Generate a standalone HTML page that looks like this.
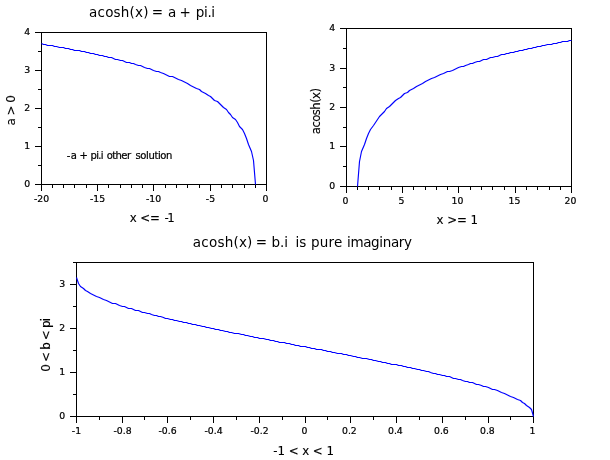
<!DOCTYPE html>
<html><head><meta charset="utf-8"><title>acosh</title>
<style>
html,body{margin:0;padding:0;background:#fff;}
svg{display:block}
text{font-family:"DejaVu Sans","Liberation Sans",sans-serif;fill:#000;white-space:pre;stroke:#000;stroke-width:0}
text.s{stroke-width:0.22px}
text.m{stroke-width:0.12px}
</style></head><body>
<svg width="610" height="460" viewBox="0 0 610 460">
<rect width="610" height="460" fill="#fff"/>
<g fill="#000" shape-rendering="crispEdges">
<g>
<rect x="41" y="32" width="226" height="1"/>
<rect x="41" y="184" width="226" height="1"/>
<rect x="41" y="32" width="1" height="153"/>
<rect x="266" y="32" width="1" height="153"/>
<rect x="41" y="184" width="1" height="7"/>
<rect x="97" y="184" width="1" height="7"/>
<rect x="153" y="184" width="1" height="7"/>
<rect x="210" y="184" width="1" height="7"/>
<rect x="266" y="184" width="1" height="7"/>
<rect x="52" y="184" width="1" height="4"/>
<rect x="63" y="184" width="1" height="4"/>
<rect x="74" y="184" width="1" height="4"/>
<rect x="86" y="184" width="1" height="4"/>
<rect x="108" y="184" width="1" height="4"/>
<rect x="120" y="184" width="1" height="4"/>
<rect x="131" y="184" width="1" height="4"/>
<rect x="142" y="184" width="1" height="4"/>
<rect x="165" y="184" width="1" height="4"/>
<rect x="176" y="184" width="1" height="4"/>
<rect x="187" y="184" width="1" height="4"/>
<rect x="199" y="184" width="1" height="4"/>
<rect x="221" y="184" width="1" height="4"/>
<rect x="232" y="184" width="1" height="4"/>
<rect x="244" y="184" width="1" height="4"/>
<rect x="255" y="184" width="1" height="4"/>
<rect x="35" y="184" width="7" height="1"/>
<rect x="35" y="146" width="7" height="1"/>
<rect x="35" y="108" width="7" height="1"/>
<rect x="35" y="70" width="7" height="1"/>
<rect x="35" y="32" width="7" height="1"/>
<rect x="38" y="165" width="4" height="1"/>
<rect x="38" y="127" width="4" height="1"/>
<rect x="38" y="89" width="4" height="1"/>
<rect x="38" y="51" width="4" height="1"/>
</g>
<g>
<rect x="346" y="28" width="226" height="1"/>
<rect x="346" y="186" width="226" height="1"/>
<rect x="346" y="28" width="1" height="159"/>
<rect x="571" y="28" width="1" height="159"/>
<rect x="346" y="186" width="1" height="7"/>
<rect x="402" y="186" width="1" height="7"/>
<rect x="458" y="186" width="1" height="7"/>
<rect x="515" y="186" width="1" height="7"/>
<rect x="571" y="186" width="1" height="7"/>
<rect x="357" y="186" width="1" height="4"/>
<rect x="368" y="186" width="1" height="4"/>
<rect x="379" y="186" width="1" height="4"/>
<rect x="391" y="186" width="1" height="4"/>
<rect x="413" y="186" width="1" height="4"/>
<rect x="425" y="186" width="1" height="4"/>
<rect x="436" y="186" width="1" height="4"/>
<rect x="447" y="186" width="1" height="4"/>
<rect x="470" y="186" width="1" height="4"/>
<rect x="481" y="186" width="1" height="4"/>
<rect x="492" y="186" width="1" height="4"/>
<rect x="504" y="186" width="1" height="4"/>
<rect x="526" y="186" width="1" height="4"/>
<rect x="537" y="186" width="1" height="4"/>
<rect x="549" y="186" width="1" height="4"/>
<rect x="560" y="186" width="1" height="4"/>
<rect x="340" y="186" width="7" height="1"/>
<rect x="340" y="146" width="7" height="1"/>
<rect x="340" y="107" width="7" height="1"/>
<rect x="340" y="68" width="7" height="1"/>
<rect x="340" y="28" width="7" height="1"/>
<rect x="343" y="166" width="4" height="1"/>
<rect x="343" y="127" width="4" height="1"/>
<rect x="343" y="87" width="4" height="1"/>
<rect x="343" y="48" width="4" height="1"/>
</g>
<g>
<rect x="76" y="262" width="458" height="1"/>
<rect x="76" y="416" width="458" height="1"/>
<rect x="76" y="262" width="1" height="155"/>
<rect x="533" y="262" width="1" height="155"/>
<rect x="76" y="416" width="1" height="7"/>
<rect x="122" y="416" width="1" height="7"/>
<rect x="167" y="416" width="1" height="7"/>
<rect x="213" y="416" width="1" height="7"/>
<rect x="259" y="416" width="1" height="7"/>
<rect x="305" y="416" width="1" height="7"/>
<rect x="350" y="416" width="1" height="7"/>
<rect x="396" y="416" width="1" height="7"/>
<rect x="442" y="416" width="1" height="7"/>
<rect x="488" y="416" width="1" height="7"/>
<rect x="533" y="416" width="1" height="7"/>
<rect x="99" y="416" width="1" height="4"/>
<rect x="144" y="416" width="1" height="4"/>
<rect x="190" y="416" width="1" height="4"/>
<rect x="236" y="416" width="1" height="4"/>
<rect x="282" y="416" width="1" height="4"/>
<rect x="327" y="416" width="1" height="4"/>
<rect x="373" y="416" width="1" height="4"/>
<rect x="419" y="416" width="1" height="4"/>
<rect x="465" y="416" width="1" height="4"/>
<rect x="510" y="416" width="1" height="4"/>
<rect x="70" y="416" width="7" height="1"/>
<rect x="70" y="372" width="7" height="1"/>
<rect x="70" y="328" width="7" height="1"/>
<rect x="70" y="284" width="7" height="1"/>
<rect x="73" y="394" width="4" height="1"/>
<rect x="73" y="350" width="4" height="1"/>
<rect x="73" y="306" width="4" height="1"/>
<rect x="73" y="262" width="4" height="1"/>
</g>
</g>
<g fill="none" stroke="#0000ff" stroke-width="1.15" stroke-linejoin="round">
<polyline points="41.5,43.5 43.5,44.5 45.5,44.5 47.5,45.5 50.5,45.5 52.5,45.5 54.5,46.5 56.5,46.5 59.5,47.5 61.5,47.5 63.5,47.5 65.5,48.5 68.5,48.5 70.5,49.5 72.5,49.5 74.5,50.5 77.5,50.5 79.5,50.5 81.5,51.5 84.5,51.5 86.5,52.5 88.5,52.5 90.5,53.5 93.5,53.5 95.5,54.5 97.5,54.5 99.5,55.5 102.5,55.5 104.5,56.5 106.5,56.5 108.5,57.5 111.5,57.5 113.5,58.5 115.5,59.5 117.5,59.5 120.5,60.5 122.5,60.5 124.5,61.5 126.5,62.5 129.5,62.5 131.5,63.5 133.5,63.5 135.5,64.5 138.5,65.5 140.5,65.5 142.5,66.5 144.5,67.5 147.5,68.5 149.5,68.5 151.5,69.5 153.5,70.5 156.5,71.5 158.5,71.5 160.5,72.5 163.5,73.5 165.5,74.5 167.5,75.5 169.5,76.5 172.5,76.5 174.5,77.5 176.5,78.5 178.5,79.5 181.5,80.5 183.5,81.5 185.5,82.5 187.5,83.5 190.5,85.5 192.5,86.5 194.5,87.5 196.5,88.5 199.5,89.5 201.5,91.5 203.5,92.5 205.5,93.5 208.5,95.5 210.5,96.5 212.5,98.5 214.5,100.5 217.5,101.5 219.5,103.5 221.5,105.5 223.5,107.5 226.5,109.5 228.5,112.5 230.5,114.5 232.5,117.5 235.5,119.5 237.5,122.5 239.5,126.5 242.5,129.5 244.5,133.5 246.5,138.5 248.5,144.5 251.5,151.5 253.5,160.5 255.5,184.5"/>
<polyline points="357.5,186.5 359.5,161.5 361.5,151.5 364.5,144.5 366.5,138.5 368.5,133.5 370.5,129.5 373.5,125.5 375.5,122.5 377.5,119.5 379.5,116.5 382.5,113.5 384.5,111.5 386.5,108.5 389.5,106.5 391.5,104.5 393.5,102.5 395.5,100.5 398.5,98.5 400.5,97.5 402.5,95.5 404.5,93.5 407.5,92.5 409.5,90.5 411.5,89.5 413.5,88.5 416.5,86.5 418.5,85.5 420.5,84.5 422.5,83.5 425.5,81.5 427.5,80.5 429.5,79.5 431.5,78.5 434.5,77.5 436.5,76.5 438.5,75.5 440.5,74.5 443.5,73.5 445.5,72.5 447.5,71.5 449.5,71.5 452.5,70.5 454.5,69.5 456.5,68.5 458.5,67.5 461.5,66.5 463.5,66.5 465.5,65.5 468.5,64.5 470.5,63.5 472.5,63.5 474.5,62.5 477.5,61.5 479.5,61.5 481.5,60.5 483.5,59.5 486.5,59.5 488.5,58.5 490.5,57.5 492.5,57.5 495.5,56.5 497.5,56.5 499.5,55.5 501.5,54.5 504.5,54.5 506.5,53.5 508.5,53.5 510.5,52.5 513.5,52.5 515.5,51.5 517.5,51.5 519.5,50.5 522.5,50.5 524.5,49.5 526.5,49.5 528.5,48.5 531.5,48.5 533.5,47.5 535.5,47.5 537.5,46.5 540.5,46.5 542.5,45.5 544.5,45.5 547.5,44.5 549.5,44.5 551.5,44.5 553.5,43.5 556.5,43.5 558.5,42.5 560.5,42.5 562.5,41.5 565.5,41.5 567.5,41.5 569.5,40.5 571.5,40.5"/>
<polyline points="76.5,277.5 78.5,283.5 80.5,286.5 83.5,288.5 85.5,290.5 87.5,291.5 90.5,293.5 92.5,294.5 94.5,295.5 96.5,296.5 99.5,297.5 101.5,298.5 103.5,299.5 106.5,300.5 108.5,301.5 110.5,302.5 112.5,303.5 115.5,303.5 117.5,304.5 119.5,305.5 122.5,306.5 124.5,306.5 126.5,307.5 128.5,308.5 131.5,308.5 133.5,309.5 135.5,310.5 138.5,310.5 140.5,311.5 142.5,312.5 144.5,312.5 147.5,313.5 149.5,313.5 151.5,314.5 154.5,315.5 156.5,315.5 158.5,316.5 160.5,316.5 163.5,317.5 165.5,318.5 167.5,318.5 170.5,319.5 172.5,319.5 174.5,320.5 176.5,320.5 179.5,321.5 181.5,321.5 183.5,322.5 186.5,322.5 188.5,323.5 190.5,323.5 192.5,324.5 195.5,324.5 197.5,325.5 199.5,325.5 202.5,326.5 204.5,326.5 206.5,327.5 208.5,327.5 211.5,328.5 213.5,328.5 215.5,329.5 218.5,329.5 220.5,330.5 222.5,330.5 225.5,331.5 227.5,331.5 229.5,332.5 231.5,332.5 234.5,333.5 236.5,333.5 238.5,333.5 241.5,334.5 243.5,334.5 245.5,335.5 247.5,335.5 250.5,336.5 252.5,336.5 254.5,337.5 257.5,337.5 259.5,338.5 261.5,338.5 263.5,338.5 266.5,339.5 268.5,339.5 270.5,340.5 273.5,340.5 275.5,341.5 277.5,341.5 279.5,342.5 282.5,342.5 284.5,342.5 286.5,343.5 289.5,343.5 291.5,344.5 293.5,344.5 295.5,345.5 298.5,345.5 300.5,346.5 302.5,346.5 305.5,346.5 307.5,347.5 309.5,347.5 311.5,348.5 314.5,348.5 316.5,349.5 318.5,349.5 321.5,349.5 323.5,350.5 325.5,350.5 327.5,351.5 330.5,351.5 332.5,352.5 334.5,352.5 337.5,353.5 339.5,353.5 341.5,353.5 343.5,354.5 346.5,354.5 348.5,355.5 350.5,355.5 353.5,356.5 355.5,356.5 357.5,357.5 359.5,357.5 362.5,358.5 364.5,358.5 366.5,358.5 369.5,359.5 371.5,359.5 373.5,360.5 375.5,360.5 378.5,361.5 380.5,361.5 382.5,362.5 385.5,362.5 387.5,363.5 389.5,363.5 391.5,364.5 394.5,364.5 396.5,364.5 398.5,365.5 401.5,365.5 403.5,366.5 405.5,366.5 407.5,367.5 410.5,367.5 412.5,368.5 414.5,368.5 417.5,369.5 419.5,369.5 421.5,370.5 423.5,370.5 426.5,371.5 428.5,371.5 430.5,372.5 433.5,373.5 435.5,373.5 437.5,374.5 439.5,374.5 442.5,375.5 444.5,375.5 446.5,376.5 449.5,376.5 451.5,377.5 453.5,378.5 455.5,378.5 458.5,379.5 460.5,379.5 462.5,380.5 465.5,381.5 467.5,381.5 469.5,382.5 472.5,382.5 474.5,383.5 476.5,384.5 478.5,384.5 481.5,385.5 483.5,386.5 485.5,386.5 488.5,387.5 490.5,388.5 492.5,389.5 494.5,389.5 497.5,390.5 499.5,391.5 501.5,392.5 504.5,393.5 506.5,394.5 508.5,395.5 510.5,396.5 513.5,397.5 515.5,398.5 517.5,399.5 520.5,400.5 522.5,402.5 524.5,403.5 526.5,405.5 529.5,407.5 531.5,409.5 533.5,416.5"/>
</g>
<g>
<text x="41.5" y="202" font-size="9.3" class="s" text-anchor="middle">-20</text>
<text x="97.5" y="202" font-size="9.3" class="s" text-anchor="middle">-15</text>
<text x="153.5" y="202" font-size="9.3" class="s" text-anchor="middle">-10</text>
<text x="210.5" y="202" font-size="9.3" class="s" text-anchor="middle">-5</text>
<text x="265.4" y="202" font-size="9.3" class="s" text-anchor="middle">0</text>
<text x="30.2" y="187" font-size="9.3" class="s" text-anchor="end">0</text>
<text x="30.2" y="149" font-size="9.3" class="s" text-anchor="end">1</text>
<text x="30.2" y="111" font-size="9.3" class="s" text-anchor="end">2</text>
<text x="30.2" y="73" font-size="9.3" class="s" text-anchor="end">3</text>
<text x="30.2" y="35" font-size="9.3" class="s" text-anchor="end">4</text>
<text x="345.4" y="204" font-size="9.3" class="s" text-anchor="middle">0</text>
<text x="401.4" y="204" font-size="9.3" class="s" text-anchor="middle">5</text>
<text x="457.4" y="204" font-size="9.3" class="s" text-anchor="middle">10</text>
<text x="514.4" y="204" font-size="9.3" class="s" text-anchor="middle">15</text>
<text x="570.4" y="204" font-size="9.3" class="s" text-anchor="middle">20</text>
<text x="335.2" y="189" font-size="9.3" class="s" text-anchor="end">0</text>
<text x="335.2" y="149" font-size="9.3" class="s" text-anchor="end">1</text>
<text x="335.2" y="110" font-size="9.3" class="s" text-anchor="end">2</text>
<text x="335.2" y="71" font-size="9.3" class="s" text-anchor="end">3</text>
<text x="335.2" y="31" font-size="9.3" class="s" text-anchor="end">4</text>
<text x="76.5" y="434" font-size="9.3" class="s" text-anchor="middle">-1</text>
<text x="122.5" y="434" font-size="9.3" class="s" text-anchor="middle">-0.8</text>
<text x="167.5" y="434" font-size="9.3" class="s" text-anchor="middle">-0.6</text>
<text x="213.5" y="434" font-size="9.3" class="s" text-anchor="middle">-0.4</text>
<text x="259.5" y="434" font-size="9.3" class="s" text-anchor="middle">-0.2</text>
<text x="304.4" y="434" font-size="9.3" class="s" text-anchor="middle">0</text>
<text x="349.4" y="434" font-size="9.3" class="s" text-anchor="middle">0.2</text>
<text x="395.4" y="434" font-size="9.3" class="s" text-anchor="middle">0.4</text>
<text x="441.4" y="434" font-size="9.3" class="s" text-anchor="middle">0.6</text>
<text x="487.4" y="434" font-size="9.3" class="s" text-anchor="middle">0.8</text>
<text x="532.4" y="434" font-size="9.3" class="s" text-anchor="middle">1</text>
<text x="65.2" y="419" font-size="9.3" class="s" text-anchor="end">0</text>
<text x="65.2" y="375" font-size="9.3" class="s" text-anchor="end">1</text>
<text x="65.2" y="331" font-size="9.3" class="s" text-anchor="end">2</text>
<text x="65.2" y="287" font-size="9.3" class="s" text-anchor="end">3</text>
<text y="16.5" font-size="13.5" class="l"><tspan x="89.09" textLength="59.37" lengthAdjust="spacing">acosh(x)</tspan> <tspan x="151.77">=</tspan> <tspan x="168.09">a</tspan> <tspan x="179.57">+</tspan> <tspan x="195.87" textLength="19.19" lengthAdjust="spacing">pi.i</tspan></text>
<text y="221.8" font-size="11.8" class="m"><tspan x="129.66">x</tspan> <tspan x="140.25" textLength="19.60" lengthAdjust="spacing">&lt;=</tspan> <tspan x="164.52" textLength="10.27" lengthAdjust="spacing">-1</tspan></text>
<text x="15.3" y="125.5" font-size="12" class="m" text-anchor="start" transform="rotate(-90 15.3 125.5)" textLength="30.3" lengthAdjust="spacing">a &gt; 0</text>
<text y="158.7" font-size="10" class="s"><tspan x="66.71">-</tspan><tspan x="70.70">a</tspan> <tspan x="79.44">+</tspan> <tspan x="90.39" textLength="13.25" lengthAdjust="spacing">pi.i</tspan> <tspan x="106.75" textLength="24.25" lengthAdjust="spacing">other</tspan> <tspan x="135.56" textLength="36.79" lengthAdjust="spacing">solution</tspan></text>
<text x="436.6" y="223.8" font-size="11.8" class="m" text-anchor="start" textLength="41.4" lengthAdjust="spacing">x &gt;= 1</text>
<text x="320" y="134.2" font-size="11.7" class="m" text-anchor="start" transform="rotate(-90 320 134.2)" textLength="46.2" lengthAdjust="spacing">acosh(x)</text>
<text y="246.5" font-size="13.5" class="l"><tspan x="192.79" textLength="59.57" lengthAdjust="spacing">acosh(x)</tspan> <tspan x="255.67">=</tspan> <tspan x="271.57" textLength="16.39" lengthAdjust="spacing">b.i</tspan> <tspan x="295.43" textLength="10.93" lengthAdjust="spacing">is</tspan> <tspan x="311.07" textLength="31.14" lengthAdjust="spacing">pure</tspan> <tspan x="347.03" textLength="64.97" lengthAdjust="spacing">imaginary</tspan></text>
<text x="273.3" y="454.6" font-size="11.8" class="m" text-anchor="start" textLength="60.6" lengthAdjust="spacing">-1 &lt; x &lt; 1</text>
<text x="50.2" y="371.7" font-size="12" class="m" text-anchor="start" transform="rotate(-90 50.2 371.7)" textLength="53.8" lengthAdjust="spacing">0 &lt; b &lt; pi</text>
</g>
</svg>
</body></html>
